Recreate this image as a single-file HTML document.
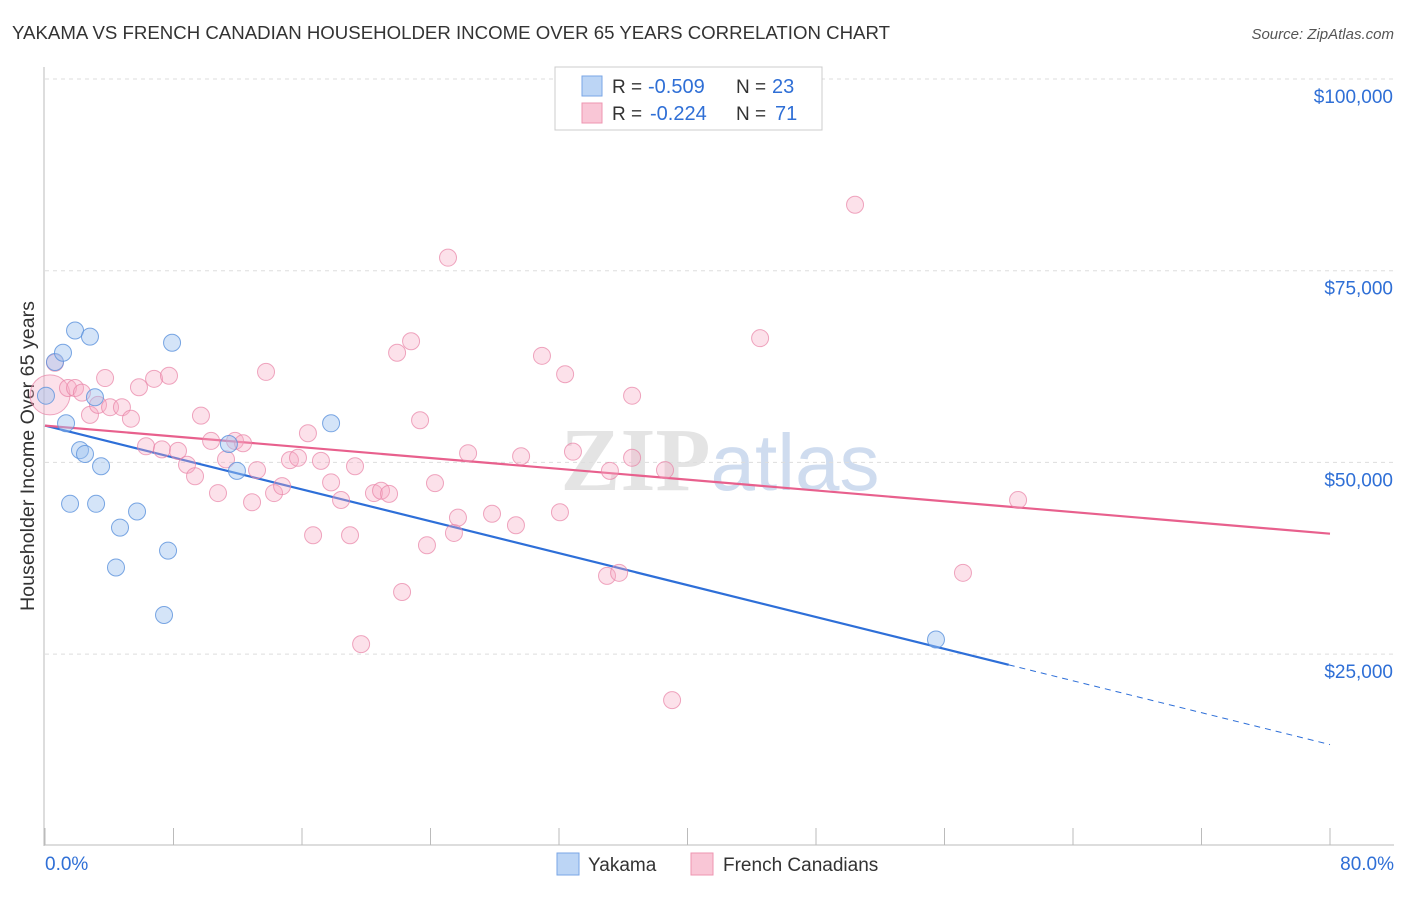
<!DOCTYPE html>
<html><head><meta charset="utf-8"><style>
body{margin:0;background:#fff;font-family:"Liberation Sans",sans-serif}
</style></head><body>
<svg id="chart" width="1406" height="892" xmlns="http://www.w3.org/2000/svg" font-family="Liberation Sans, sans-serif">
<text x="12" y="39" font-size="18" fill="#333" textLength="878" lengthAdjust="spacingAndGlyphs">YAKAMA VS FRENCH CANADIAN HOUSEHOLDER INCOME OVER 65 YEARS CORRELATION CHART</text>
<text x="1394" y="39" font-size="15" fill="#555" text-anchor="end" font-style="italic">Source: ZipAtlas.com</text>
<text x="720" y="490" font-size="90" text-anchor="middle" fill="#e4e4e4"><tspan font-family="Liberation Serif, serif" font-weight="bold">ZIP</tspan><tspan fill="#cfdcef" font-size="80">atlas</tspan></text>
<g id="grid"></g><g id="axes"></g>
<text transform="translate(34,456) rotate(-90)" font-size="19" fill="#333" text-anchor="middle" textLength="310" lengthAdjust="spacingAndGlyphs">Householder Income Over 65 years</text>
<g id="trends"></g><g id="points"></g>
<g>
<rect x="555" y="67" width="267" height="63" fill="#fff" stroke="#ccc"/>
<rect x="582" y="76" width="20" height="20" fill="#bcd5f5" stroke="#7aa6e6"/>
<text x="612" y="93" font-size="19" fill="#333">R =</text>
<text x="648" y="93" font-size="20" fill="#2f6fd6">-0.509</text>
<text x="736" y="93" font-size="19" fill="#333">N =</text>
<text x="772" y="93" font-size="20" fill="#2f6fd6">23</text>
<rect x="582" y="103" width="20" height="20" fill="#f9c6d6" stroke="#ee95b0"/>
<text x="612" y="120" font-size="19" fill="#333">R =</text>
<text x="650" y="120" font-size="20" fill="#2f6fd6">-0.224</text>
<text x="736" y="120" font-size="19" fill="#333">N =</text>
<text x="775" y="120" font-size="20" fill="#2f6fd6">71</text>
</g>
<g>
<rect x="557" y="853" width="22" height="22" fill="#bcd5f5" stroke="#7aa6e6"/>
<text x="588" y="871" font-size="19" fill="#333">Yakama</text>
<rect x="691" y="853" width="22" height="22" fill="#f9c6d6" stroke="#ee95b0"/>
<text x="723" y="871" font-size="19" fill="#333">French Canadians</text>
</g>
</svg>
<script>
const yTicks=[25000,50000,75000,100000];
const yTickLabels=["$25,000","$50,000","$75,000","$100,000"];
const xTickLabels=["0.0%","80.0%"];
const blueX=[0.06,0.62,1.12,1.87,2.80,3.11,1.31,2.18,2.49,3.49,1.56,3.18,4.67,4.42,5.73,7.66,7.41,7.91,11.45,11.95,17.81,55.47];
const blueY=[58.7,63.1,64.3,67.2,66.4,58.5,55.1,51.6,51.1,49.5,44.6,44.6,41.5,36.3,43.6,38.5,30.1,65.6,52.4,48.9,55.1,26.9];
const pinkX=[0.31,0.62,1.43,1.87,2.30,2.80,3.30,3.74,4.05,4.79,5.35,5.85,6.29,6.79,7.28,7.72,8.28,8.84,9.34,9.71,10.34,10.77,11.27,11.83,12.33,12.89,13.20,13.76,14.26,14.76,15.25,15.75,16.37,16.69,17.18,17.81,18.43,18.99,19.30,19.68,20.48,20.92,21.42,21.92,22.23,22.79,23.35,23.78,24.28,25.09,25.46,25.71,26.34,27.83,29.32,29.64,30.94,32.06,32.38,32.87,34.99,35.17,35.74,36.55,36.55,38.60,39.04,44.52,50.43,57.15,60.58];
const pinkY=[58.8,63.0,59.7,59.7,59.1,56.2,57.5,61.0,57.2,57.2,55.7,59.8,52.1,60.9,51.7,61.3,51.5,49.7,48.2,56.1,52.8,46.0,50.4,52.8,52.5,44.8,49.0,61.8,46.0,46.9,50.3,50.6,53.8,40.5,50.2,47.4,45.1,40.5,49.5,26.3,46.0,46.3,45.9,64.3,33.1,65.8,55.5,39.2,47.3,76.7,40.8,42.8,51.2,43.3,41.8,50.8,63.9,43.5,61.5,51.4,35.2,48.9,35.6,58.7,50.6,49.0,19.0,66.2,83.6,35.6,45.1];
const blueTrend=[54.8,13.2];
const pinkTrend=[54.8,40.7];
const NS="http://www.w3.org/2000/svg";
const X=v=>45+v/80*1285;
const Y=v=>79+(100-v)*191.7/25;
function mk(t,a,p){const e=document.createElementNS(NS,t);for(const k in a)e.setAttribute(k,a[k]);p.appendChild(e);return e;}
const grid=document.getElementById('grid'),axes=document.getElementById('axes');
yTicks.forEach((t,i)=>{
 const l=mk('line',{x1:45,x2:1394,y1:Y(t/1000),y2:Y(t/1000),stroke:'#ddd','stroke-dasharray':'4,4'},grid);
 
 
 const tx=mk('text',{x:1393,y:Y(t/1000)+24,'font-size':19,fill:'#2f6fd6','text-anchor':'end'},grid);
 tx.textContent=yTickLabels[i];
 
 
});
mk('line',{x1:44,x2:44,y1:67,y2:846,stroke:'#bbb'},axes);
mk('line',{x1:44,x2:1394,y1:845,y2:845,stroke:'#bbb'},axes);
for(let i=0;i<=10;i++){const t=mk('line',{x1:X(i*8),x2:X(i*8),y1:828,y2:845,stroke:'#bbb'},axes);
 
 }
[[0,45,'start'],[1,1394,'end']].forEach(([i,x,a])=>{const t=mk('text',{x:x,y:870,'font-size':19,fill:'#2f6fd6','text-anchor':a},axes);t.textContent=xTickLabels[i];
 
 });
const tr=document.getElementById('trends');
const bAt=x=>blueTrend[0]+(blueTrend[1]-blueTrend[0])*x/80;
let l1=mk('line',{x1:X(0),y1:Y(bAt(0)),x2:X(60),y2:Y(bAt(60)),stroke:'#2e6fd8','stroke-width':2.2},tr);


let l2=mk('line',{x1:X(60),y1:Y(bAt(60)),x2:X(80),y2:Y(bAt(80)),stroke:'#2e6fd8','stroke-width':1,'stroke-dasharray':'6,5'},tr);


const pts=document.getElementById('points');
pinkX.forEach((x,i)=>{const c=mk('circle',{cx:X(x),cy:Y(pinkY[i]),r:i==0?20:8.5,fill:'rgba(246,170,195,0.35)',stroke:'rgba(232,130,165,0.7)','stroke-width':1},pts);
 
 });
blueX.forEach((x,i)=>{const c=mk('circle',{cx:X(x),cy:Y(blueY[i]),r:8.5,fill:'rgba(160,195,240,0.45)',stroke:'rgba(90,145,220,0.8)','stroke-width':1},pts);
 
 });
let l3=mk('line',{x1:X(0),y1:Y(pinkTrend[0]),x2:X(80),y2:Y(pinkTrend[1]),stroke:'#e8608d','stroke-width':2.2},tr);


</script>
</body></html>
